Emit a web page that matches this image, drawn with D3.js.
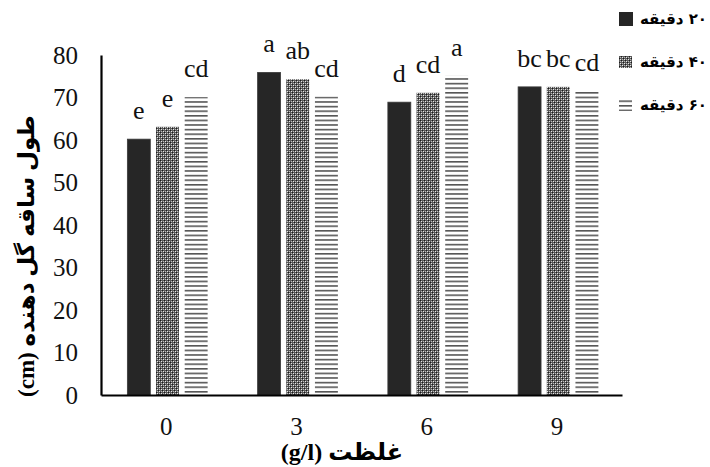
<!DOCTYPE html>
<html>
<head>
<meta charset="utf-8">
<script src="https://cdn.jsdelivr.net/npm/d3@7"></script>
<style>
  body { margin: 0; background: #fff; }
  svg { display: block; }
</style>
</head>
<body>
<div class="chart"></div>
<script>
// concentration groups (x axis)
const categories = ["0", "3", "6", "9"];
// series = immersion time
const seriesNames = ["۲۰ دقیقه", "۴۰ دقیقه", "۶۰ دقیقه"];
const values20 = [60.2, 75.9, 68.9, 72.5];
const values40 = [63.1, 74.3, 71.1, 72.5];
const values60 = [70.1, 70.2, 75.1, 71.5];
// letters over bars
const letters20 = ["e", "a", "d", "bc"];
const letters40 = ["e", "ab", "cd", "bc"];
const letters60 = ["cd", "cd", "a", "cd"];
const yTicks = [0, 10, 20, 30, 40, 50, 60, 70, 80];

const width = 710;
const height = 467;
const serif = "'Liberation Serif', 'Times New Roman', Tinos, serif";
const faFont = "'Liberation Serif', 'DejaVu Sans', serif";

const svg = d3.select(".chart")
    .append("svg")
    .attr("width", width)
    .attr("height", height);

// patterns for the bar fills
const defs = svg.append("defs");

const checker = defs.append("pattern")
    .attr("id", "checker")
    .attr("patternUnits", "userSpaceOnUse")
    .attr("width", 4)
    .attr("height", 4);
checker.append("rect").attr("width", 4).attr("height", 4).attr("fill", "#5a5a5a");
checker.append("rect").attr("x", 0).attr("y", 0).attr("width", 1).attr("height", 1).attr("fill", "#1a1a1a");
checker.append("rect").attr("x", 2).attr("y", 2).attr("width", 1).attr("height", 1).attr("fill", "#1a1a1a");
checker.append("rect").attr("x", 1).attr("y", 1).attr("width", 1).attr("height", 1).attr("fill", "#e8e8e8");
checker.append("rect").attr("x", 3).attr("y", 3).attr("width", 1).attr("height", 1).attr("fill", "#e8e8e8");
checker.append("rect").attr("x", 3).attr("y", 1).attr("width", 1).attr("height", 1).attr("fill", "#bbb");
checker.append("rect").attr("x", 1).attr("y", 3).attr("width", 1).attr("height", 1).attr("fill", "#bbb");

const hlines = defs.append("pattern")
    .attr("id", "hlines")
    .attr("patternUnits", "userSpaceOnUse")
    .attr("width", 8)
    .attr("height", 4.6);
hlines.append("rect").attr("width", 8).attr("height", 4.6).attr("fill", "#fff");
hlines.append("rect").attr("y", 0).attr("width", 8).attr("height", 1.6).attr("fill", "#555");

const fills = ["#262626", "url(#checker)", "url(#hlines)"];

// scales
const x = d3.scaleBand()
    .domain(categories)
    .range([101, 622]);

const xSub = d3.scaleBand()
    .domain([0, 1, 2])
    .range([23.5, 109.5])
    .paddingInner(0.2)
    .paddingOuter(0.1);

const y = d3.scaleLinear()
    .domain([0, 80])
    .range([395, 55]);

// build table of bars
const allValues = [values20, values40, values60];
const allLetters = [letters20, letters40, letters60];
const bars = [];
categories.forEach((c, i) => {
    allValues.forEach((vals, s) => {
        bars.push({cat: c, s: s, value: vals[i], letter: allLetters[s][i]});
    });
});

svg.selectAll(".bar")
    .data(bars)
    .enter()
    .append("rect")
    .attr("class", "bar")
    .attr("x", d => x(d.cat) + xSub(d.s))
    .attr("y", d => y(d.value))
    .attr("width", xSub.bandwidth())
    .attr("height", d => y(0) - y(d.value))
    .attr("fill", d => fills[d.s])
    .attr("stroke", d => d.s === 0 ? "#3a3a3a" : "none")
    .attr("stroke-width", 0.8);

// letters above bars
svg.selectAll(".letter")
    .data(bars)
    .enter()
    .append("text")
    .attr("class", "letter")
    .text(d => d.letter)
    .style("font-family", serif)
    .style("font-size", "26px")
    .attr("text-anchor", "middle")
    .attr("fill", "#111")
    .attr("x", d => x(d.cat) + xSub(d.s) + xSub.bandwidth() / 2)
    .attr("y", d => y(d.value) - 20);

// axes
const yAxis = d3.axisLeft(y).tickValues(yTicks).tickSize(0).tickPadding(23);
const yg = svg.append("g")
    .attr("transform", "translate(101,0)")
    .call(yAxis);
yg.select(".domain").attr("stroke", "#000").attr("stroke-width", 2.2);
yg.selectAll("text")
    .style("font-family", serif)
    .style("font-size", "25px")
    .attr("fill", "#111");

const xAxis = d3.axisBottom(x).tickSize(0).tickPadding(22);
const xg = svg.append("g")
    .attr("transform", "translate(0,395)")
    .call(xAxis);
xg.select(".domain").attr("stroke", "#000").attr("stroke-width", 2.2);
xg.selectAll("text")
    .style("font-family", serif)
    .style("font-size", "25px")
    .attr("fill", "#111");

// axis titles
svg.append("text")
    .text("غلظت (g/l)")
    .attr("direction", "rtl")
    .style("font-family", faFont)
    .attr("font-weight", "bold")
    .style("font-size", "24px")
    .attr("text-anchor", "middle")
    .attr("x", 342)
    .attr("y", 460);

svg.append("text")
    .text("طول ساقه گل دهنده (cm)")
    .attr("direction", "rtl")
    .style("font-family", faFont)
    .attr("font-weight", "bold")
    .style("font-size", "23px")
    .attr("text-anchor", "middle")
    .attr("transform", "translate(34,256) rotate(-90)");

// legend
const legend = svg.selectAll(".legend")
    .data(seriesNames)
    .enter()
    .append("g")
    .attr("class", "legend")
    .attr("transform", (d, i) => "translate(619," + (19 + i * 43) + ")");

legend.append("rect")
    .attr("x", 0)
    .attr("y", (d, i) => i === 0 ? -7 : -6)
    .attr("width", (d, i) => i === 0 ? 14 : 13)
    .attr("height", (d, i) => i === 0 ? 14 : 12)
    .attr("fill", (d, i) => fills[i]);

legend.append("text")
    .text(d => d)
    .attr("direction", "rtl")
    .style("font-family", "'DejaVu Sans', sans-serif")
    .attr("font-weight", "bold")
    .style("font-size", "15px")
    .attr("text-anchor", "start")
    .attr("x", 88)
    .attr("dy", "0.35em");
</script>
</body>
</html>
